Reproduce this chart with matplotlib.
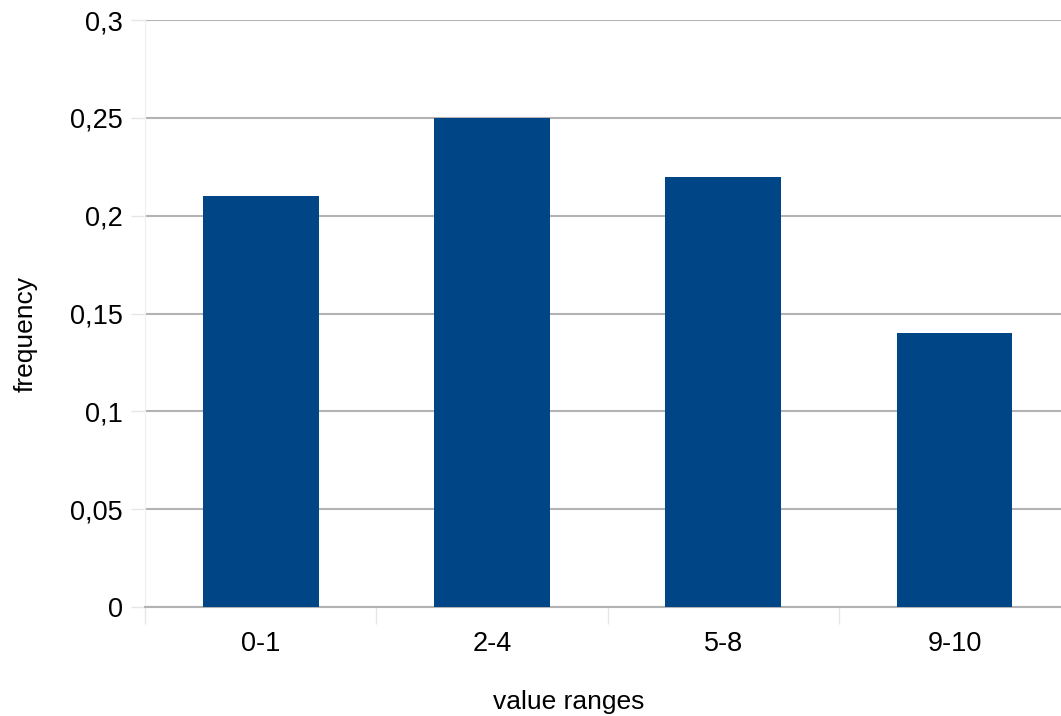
import matplotlib
matplotlib.use("Agg")
import matplotlib.pyplot as plt
from matplotlib.ticker import FixedLocator, FuncFormatter

categories = ["0-1", "2-4", "5-8", "9-10"]
frequency = [0.21, 0.25, 0.22, 0.14]
y_ticks = [0, 0.05, 0.1, 0.15, 0.2, 0.25, 0.3]

plt.rcParams['font.family'] = ['Liberation Sans', 'DejaVu Sans']

fig = plt.figure(figsize=(10.61, 7.16), dpi=100)
ax = fig.add_axes([0.1367, 0.152, 0.872, 0.820])

x = list(range(len(categories)))
ax.bar(x, frequency, width=0.5, color="#004586", zorder=3)

ax.set_xlim(-0.5, len(categories) - 0.5)
ax.set_ylim(0, 0.3)
ax.set_yticks(y_ticks)
ax.yaxis.set_major_formatter(FuncFormatter(lambda v, p: ("%g" % v).replace(".", ",")))
ax.grid(axis="y", color="#b3b3b3", linewidth=1.5, zorder=0)
ax.set_axisbelow(True)

ax.set_xticks(x)
ax.set_xticklabels(categories)
ax.xaxis.set_minor_locator(FixedLocator([i - 0.5 for i in range(len(categories) + 1)]))
ax.tick_params(axis="x", which="major", length=0, pad=17, labelsize=19.5)
ax.tick_params(axis="x", which="minor", length=12, color="#e6e6e6", width=1)
ax.tick_params(axis="y", length=10, color="#e6e6e6", width=1, pad=6, labelsize=19.5)

for s in ["top", "right"]:
    ax.spines[s].set_visible(False)
ax.spines["left"].set_color("#eeeeee")
ax.spines["bottom"].set_color("#b3b3b3")
ax.spines["bottom"].set_linewidth(1.5)

ax.set_xlabel("value ranges", fontsize=19, labelpad=24, x=0.458)
ax.set_ylabel("frequency", fontsize=19, labelpad=23, y=0.465)

fig.savefig("out.png", dpi=100, facecolor="white")
